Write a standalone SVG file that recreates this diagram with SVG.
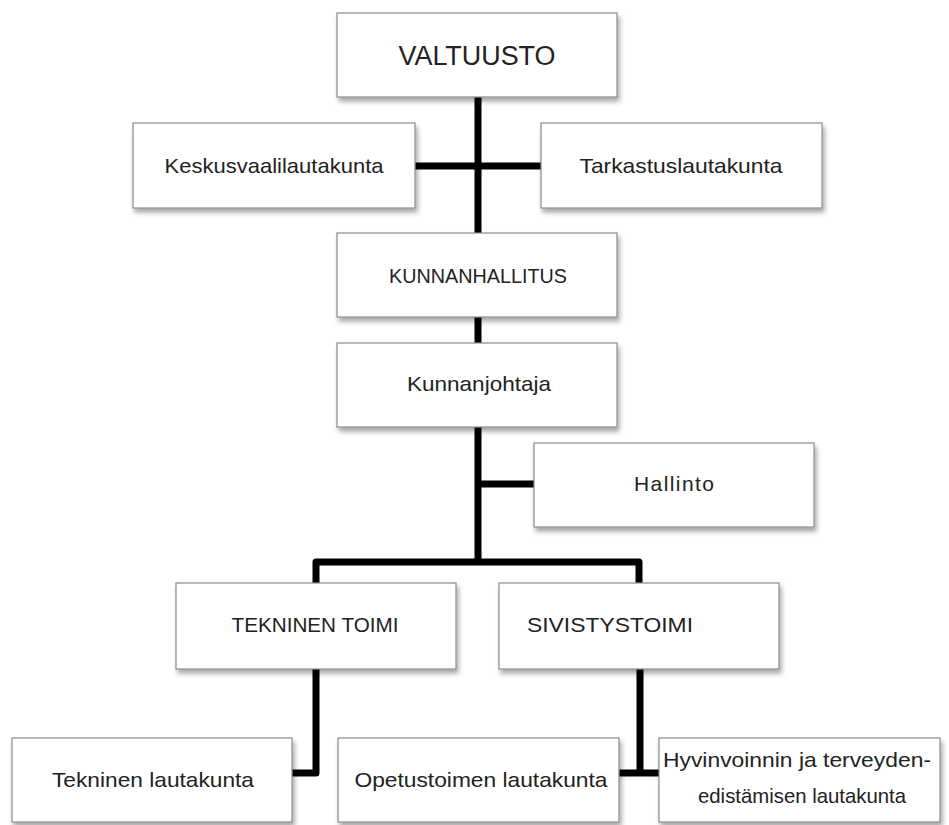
<svg xmlns="http://www.w3.org/2000/svg" width="949" height="825" viewBox="0 0 949 825">
<defs>
<filter id="sh" x="-10%" y="-10%" width="125%" height="140%">
<feDropShadow dx="2" dy="4" stdDeviation="2.5" flood-color="#000" flood-opacity="0.35"/>
</filter>
<style>
.box{fill:#fff;stroke:#8a8a8a;stroke-width:1.2;filter:url(#sh)}
.t{font-family:"Liberation Sans",Arial,sans-serif;font-size:21px;fill:#222;text-anchor:middle}
.big{font-size:27px}
.c{fill:none;stroke:#000;stroke-width:7;stroke-linejoin:round}
</style>
</defs>
<rect width="949" height="825" fill="#fff"/>
<g id="connectors">
<path class="c" d="M478 97 V233"/>
<path class="c" d="M415 166 H541"/>
<path class="c" d="M478 317 V343"/>
<path class="c" d="M478 427 V562"/>
<path class="c" d="M478 484 H534"/>
<path class="c" d="M316 583 V562 H639 V583"/>
<path class="c" d="M316 669 V773 H292"/>
<path class="c" d="M640 669 V773"/>
<path class="c" d="M619 773 H659"/>
</g>
<g id="valtuusto"><rect class="box" x="337" y="13" width="280" height="84"/><text class="t big" x="477" y="65" textLength="157" lengthAdjust="spacingAndGlyphs">VALTUUSTO</text></g>
<g id="keskusvaalilautakunta"><rect class="box" x="133" y="123" width="282" height="85"/><text class="t" x="274" y="173" textLength="219" lengthAdjust="spacingAndGlyphs">Keskusvaalilautakunta</text></g>
<g id="tarkastuslautakunta"><rect class="box" x="541" y="123" width="281" height="85"/><text class="t" x="681" y="173" textLength="203" lengthAdjust="spacingAndGlyphs">Tarkastuslautakunta</text></g>
<g id="kunnanhallitus"><rect class="box" x="337" y="233" width="280" height="84"/><text class="t" x="478" y="283" textLength="178" lengthAdjust="spacingAndGlyphs">KUNNANHALLITUS</text></g>
<g id="kunnanjohtaja"><rect class="box" x="337" y="343" width="280" height="84"/><text class="t" x="479" y="391" textLength="144" lengthAdjust="spacingAndGlyphs">Kunnanjohtaja</text></g>
<g id="hallinto"><rect class="box" x="534" y="443" width="280" height="84"/><text class="t" x="674" y="491" textLength="80" lengthAdjust="spacing">Hallinto</text></g>
<g id="tekninen-toimi"><rect class="box" x="176" y="583" width="280" height="86"/><text class="t" x="315" y="632" textLength="167" lengthAdjust="spacingAndGlyphs">TEKNINEN TOIMI</text></g>
<g id="sivistystoimi"><rect class="box" x="499" y="583" width="280" height="86"/><text class="t" x="610" y="632" textLength="166" lengthAdjust="spacingAndGlyphs">SIVISTYSTOIMI</text></g>
<g id="tekninen-lautakunta"><rect class="box" x="12" y="738" width="280" height="84"/><text class="t" x="153" y="787" textLength="202" lengthAdjust="spacingAndGlyphs">Tekninen lautakunta</text></g>
<g id="opetustoimen-lautakunta"><rect class="box" x="338" y="738" width="281" height="84"/><text class="t" x="481" y="787" textLength="253" lengthAdjust="spacingAndGlyphs">Opetustoimen lautakunta</text></g>
<g id="hyvinvoinnin-lautakunta"><rect class="box" x="659" y="738" width="281" height="84"/><text class="t" x="797" y="767" textLength="268" lengthAdjust="spacingAndGlyphs">Hyvinvoinnin ja terveyden-</text><text class="t" x="802" y="803" textLength="208" lengthAdjust="spacingAndGlyphs">edistämisen lautakunta</text></g>
</svg>
